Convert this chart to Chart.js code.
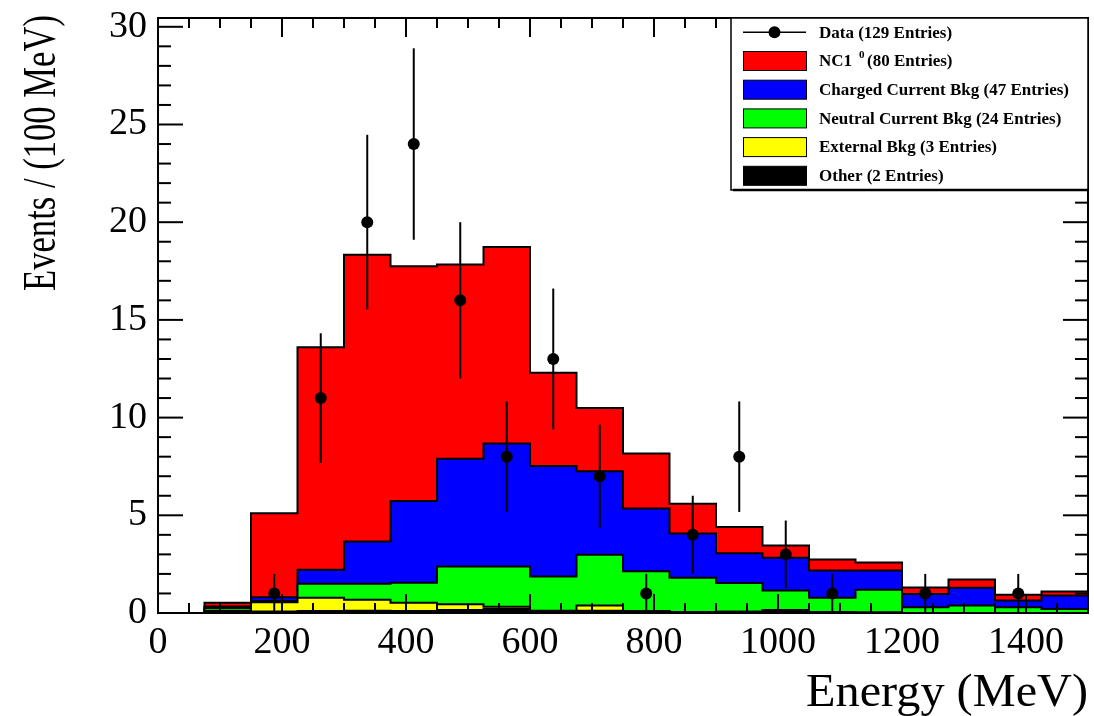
<!DOCTYPE html>
<html>
<head>
<meta charset="utf-8">
<script src="https://cdn.jsdelivr.net/npm/chart.js@4.4.1/dist/chart.umd.min.js"></script>
<style>
  html, body { margin: 0; padding: 0; background: #fff; }
  #wrap { width: 1094px; height: 716px; position: relative; }
</style>
</head>
<body>
<div id="wrap"><canvas id="energia"></canvas></div>
<script>
// bin edges in MeV (75 MeV bins)
var binEdges = [75, 150, 225, 300, 375, 450, 525, 600, 675, 750, 825, 900, 975, 1050, 1125, 1200, 1275, 1350, 1425, 1500];

// MC components, events per bin (bottom of the stack first)
var other    = [0.05, 0.08, 0.10, 0.12, 0.10, 0.15, 0.20, 0.10, 0.12, 0.08, 0.05, 0.06, 0.05, 0.05, 0.03, 0, 0, 0, 0];
var external = [0.07, 0.47, 0.68, 0.56, 0.42, 0.30, 0.12, 0.02, 0.26, 0.02, 0, 0, 0.10, 0, 0, 0, 0, 0, 0];
var ncBkg    = [0.13, 0.07, 0.72, 0.82, 1.03, 1.93, 2.06, 1.75, 2.60, 2.04, 1.75, 1.47, 1.00, 0.73, 1.16, 0.30, 0.38, 0.30, 0.21];
var ccBkg    = [0.08, 0.19, 0.71, 2.16, 4.18, 5.52, 6.29, 5.65, 4.27, 3.21, 2.27, 1.53, 1.68, 1.40, 0.99, 0.67, 0.91, 0.34, 0.69];
var nc1pi0   = [0.19, 4.29, 11.39, 14.68, 12.01, 9.94, 10.06, 4.77, 3.24, 2.81, 1.52, 1.34, 0.63, 0.56, 0.41, 0.33, 0.43, 0.29, 0.20];

// observed events per bin
var dataCounts = [0, 1, 11, 20, 24, 16, 8, 13, 7, 1, 4, 8, 3, 1, 0, 1, 0, 1, 0];

// axis tick values
var xTicks = [0, 200, 400, 600, 800, 1000, 1200, 1400];
var yTicks = [0, 5, 10, 15, 20, 25, 30];

var legendLabels = ['Data (129 Entries)', 'NC1', 'Charged Current Bkg (47 Entries)',
  'Neutral Current Bkg (24 Entries)', 'External Bkg (3 Entries)', 'Other (2 Entries)'];
var layerColors = ['#000000', '#ffff00', '#00ff00', '#0000ff', '#ff0000']; // other .. nc1pi0
var serif = '"Liberation Serif", "Times New Roman", serif';

// running sums, so every layer is drawn from zero
function stackUp(layers) {
  var run = layers[0].map(function() { return 0; });
  return layers.map(function(l) {
    run = run.map(function(v, i) { return v + l[i]; });
    return run.slice();
  });
}

// step outline points for a histogram
function stepPoints(tops) {
  var last = binEdges[binEdges.length - 1];
  var pts = [{ x: binEdges[0], y: 0 }];
  tops.forEach(function(v, i) { pts.push({ x: binEdges[i], y: v }); });
  pts.push({ x: last, y: tops[tops.length - 1] });
  pts.push({ x: last, y: 0 });
  return pts;
}

var stacks = stackUp([other, external, ncBkg, ccBkg, nc1pi0]);

var dataPoints = [];
dataCounts.forEach(function(n, i) {
  if (n > 0) dataPoints.push({ x: (binEdges[i] + binEdges[i + 1]) / 2, y: n });
});

var datasets = [{
  label: 'data',
  data: dataPoints,
  showLine: false,
  pointRadius: 6,
  pointHoverRadius: 6,
  pointBackgroundColor: '#000',
  pointBorderWidth: 0
}];
stacks.forEach(function(tops, k) {
  datasets.push({
    data: stepPoints(tops),
    stepped: true,
    fill: 'origin',
    backgroundColor: layerColors[k],
    borderColor: '#000',
    borderWidth: 2,
    pointRadius: 0,
    pointHoverRadius: 0
  });
});

function line(ctx, x1, y1, x2, y2) {
  ctx.beginPath(); ctx.moveTo(x1, y1); ctx.lineTo(x2, y2); ctx.stroke();
}

// error bars, frame and inward ticks on all four sides
var frame = {
  id: 'frame',
  afterDatasetsDraw: function(chart) {
    var ctx = chart.ctx, a = chart.chartArea;
    var xs = chart.scales.x, ys = chart.scales.y;
    ctx.save();
    ctx.strokeStyle = '#000';
    ctx.lineWidth = 2;
    dataPoints.forEach(function(p) {
      var e = Math.sqrt(p.y);
      var x = xs.getPixelForValue(p.x);
      line(ctx, x, ys.getPixelForValue(Math.max(p.y - e, 0)), x, ys.getPixelForValue(p.y + e));
    });
    for (var v = 0; v <= 30; v += 1) {
      var y = ys.getPixelForValue(v), len = v % 5 === 0 ? 25 : 13;
      line(ctx, a.left, y, a.left + len, y);
      line(ctx, a.right, y, a.right - len, y);
    }
    for (var m = 0; m <= 1500; m += 50) {
      var x = xs.getPixelForValue(m), tl = m % 200 === 0 ? 19 : 10;
      line(ctx, x, a.bottom, x, a.bottom - tl);
      line(ctx, x, a.top, x, a.top + tl);
    }
    ctx.strokeRect(a.left, a.top, a.right - a.left, a.bottom - a.top);
    ctx.restore();
  },
  afterDraw: function(chart) {
    var ctx = chart.ctx, a = chart.chartArea;
    ctx.save();
    ctx.fillStyle = '#000';

    // axis titles, squeezed or stretched to their span
    ctx.font = '46px ' + serif;
    ctx.textBaseline = 'alphabetic';
    var xt = 'Energy (MeV)';
    var sx = 282 / ctx.measureText(xt).width;
    ctx.save();
    ctx.translate(a.right, 706);
    ctx.scale(sx, 1);
    ctx.textAlign = 'right';
    ctx.fillText(xt, 0, 0);
    ctx.restore();

    ctx.font = '47px ' + serif;
    var yt = 'Events / (100 MeV)';
    var sy = 276 / ctx.measureText(yt).width;
    ctx.save();
    ctx.translate(55, 15);
    ctx.rotate(-Math.PI / 2);
    ctx.scale(sy, 1);
    ctx.textAlign = 'right';
    ctx.fillText(yt, 0, 0);
    ctx.restore();

    // legend box
    var L = 731, T = a.top, R = a.right, B = 190;
    ctx.fillStyle = '#fff';
    ctx.fillRect(L, T, R - L, B - T);
    ctx.strokeStyle = '#000';
    ctx.lineWidth = 1.5;
    ctx.strokeRect(L, T, R - L, B - T);
    ctx.lineWidth = 2.5;
    line(ctx, L + 2, B, R, B);

    var rowH = 28.7, y0 = 32.3;
    ctx.font = 'bold 17px ' + serif;
    ctx.textAlign = 'left';
    ctx.textBaseline = 'middle';
    legendLabels.forEach(function(txt, i) {
      var cy = y0 + i * rowH;
      if (i === 0) {
        ctx.strokeStyle = '#000'; ctx.lineWidth = 1.5;
        line(ctx, 743, cy, 806, cy);
        ctx.fillStyle = '#000';
        ctx.beginPath(); ctx.arc(774.5, cy, 6, 0, Math.PI * 2); ctx.fill();
      } else {
        ctx.fillStyle = layerColors[5 - i];
        ctx.fillRect(743.5, cy - 9.5, 63, 19);
        ctx.strokeStyle = '#000'; ctx.lineWidth = 1;
        ctx.strokeRect(743.5, cy - 9.5, 63, 19);
      }
      ctx.fillStyle = '#000';
      ctx.fillText(txt, 819, cy + 1);
      if (i === 1) {
        var w = ctx.measureText(txt).width;
        ctx.font = 'bold 11px ' + serif;
        ctx.fillText('0', 819 + w + 7, cy - 6);
        ctx.font = 'bold 17px ' + serif;
        ctx.fillText('(80 Entries)', 819 + w + 15, cy + 1);
      }
    });
    ctx.restore();
  }
};

function fixWidth(w) {
  return function(s) { s.width = w; s.paddingTop = 0; s.paddingBottom = 0; };
}
function fixHeight(h) {
  return function(s) { s.height = h; s.paddingLeft = 0; s.paddingRight = 0; };
}
function plain(v) { return String(v); }

new Chart(document.getElementById('energia'), {
  type: 'line',
  data: { datasets: datasets },
  options: {
    responsive: true,
    maintainAspectRatio: false,
    animation: false,
    events: [],
    layout: { padding: { top: 18, right: 4, left: 0, bottom: 0 } },
    plugins: { legend: { display: false }, tooltip: { enabled: false } },
    scales: {
      x: {
        type: 'linear',
        min: 0,
        max: 1500,
        afterBuildTicks: function(s) { s.ticks = xTicks.map(function(v) { return { value: v }; }); },
        afterFit: fixHeight(103),
        grid: { display: false, drawTicks: false },
        border: { display: false },
        ticks: { color: '#000', padding: 7, maxRotation: 0, autoSkip: false, callback: plain, font: { family: serif, size: 38 } }
      },
      y: {
        type: 'linear',
        min: 0,
        max: 30.45,
        afterBuildTicks: function(s) { s.ticks = yTicks.map(function(v) { return { value: v }; }); },
        afterFit: fixWidth(158),
        grid: { display: false, drawTicks: false },
        border: { display: false },
        ticks: { color: '#000', padding: 11, autoSkip: false, callback: plain, font: { family: serif, size: 38 } }
      }
    }
  },
  plugins: [frame]
});
</script>
</body>
</html>
